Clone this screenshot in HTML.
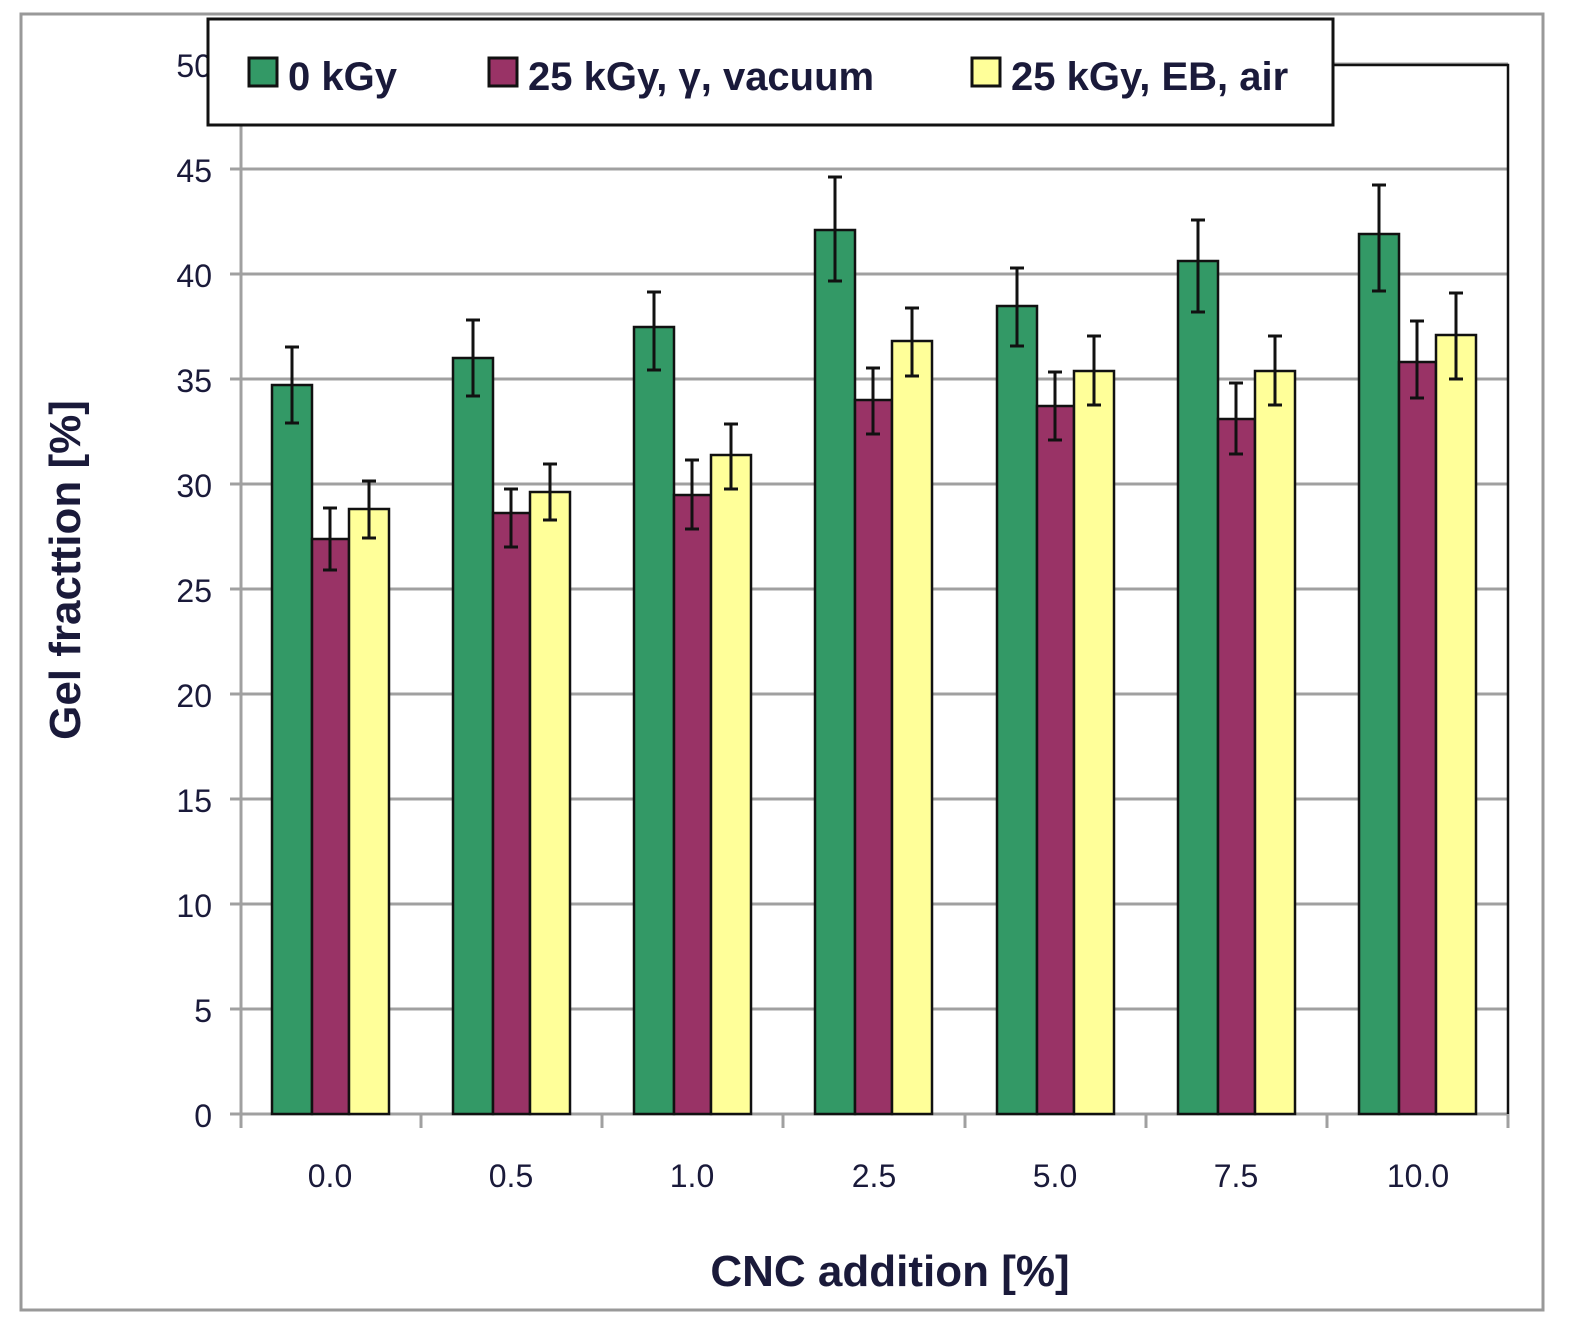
<!DOCTYPE html>
<html><head><style>body{margin:0;background:#fff}svg{display:block}</style></head><body>
<svg width="1574" height="1335" xmlns="http://www.w3.org/2000/svg" font-family="Liberation Sans, sans-serif">
<rect x="0" y="0" width="1574" height="1335" fill="#fff"/>
<rect x="21" y="14" width="1522" height="1296" fill="none" stroke="#999" stroke-width="3"/>
<g stroke="#a0a0a0" stroke-width="3">
<line x1="230" y1="1114" x2="1508" y2="1114"/>
<line x1="230" y1="1009" x2="1508" y2="1009"/>
<line x1="230" y1="904" x2="1508" y2="904"/>
<line x1="230" y1="799" x2="1508" y2="799"/>
<line x1="230" y1="694" x2="1508" y2="694"/>
<line x1="230" y1="589" x2="1508" y2="589"/>
<line x1="230" y1="484" x2="1508" y2="484"/>
<line x1="230" y1="379" x2="1508" y2="379"/>
<line x1="230" y1="274" x2="1508" y2="274"/>
<line x1="230" y1="169" x2="1508" y2="169"/>
<line x1="230" y1="64" x2="1508" y2="64"/>
<line x1="241" y1="64" x2="241" y2="1128"/>
<line x1="421" y1="1114" x2="421" y2="1128"/>
<line x1="602" y1="1114" x2="602" y2="1128"/>
<line x1="783" y1="1114" x2="783" y2="1128"/>
<line x1="965" y1="1114" x2="965" y2="1128"/>
<line x1="1146" y1="1114" x2="1146" y2="1128"/>
<line x1="1327" y1="1114" x2="1327" y2="1128"/>
<line x1="1508" y1="1114" x2="1508" y2="1128"/>
</g>
<polyline points="1333,65 1508,65 1508,1114" fill="none" stroke="#111" stroke-width="2.5"/>
<g stroke="#111" stroke-width="2.5">
<rect x="272" y="385" width="40" height="729" fill="#339966"/>
<rect x="312" y="539" width="37" height="575" fill="#993366"/>
<rect x="349" y="509" width="40" height="605" fill="#ffff99"/>
<rect x="453" y="358" width="40" height="756" fill="#339966"/>
<rect x="493" y="513" width="37" height="601" fill="#993366"/>
<rect x="530" y="492" width="40" height="622" fill="#ffff99"/>
<rect x="634" y="327" width="40" height="787" fill="#339966"/>
<rect x="674" y="495" width="37" height="619" fill="#993366"/>
<rect x="711" y="455" width="40" height="659" fill="#ffff99"/>
<rect x="815" y="230" width="40" height="884" fill="#339966"/>
<rect x="855" y="400" width="37" height="714" fill="#993366"/>
<rect x="892" y="341" width="40" height="773" fill="#ffff99"/>
<rect x="997" y="306" width="40" height="808" fill="#339966"/>
<rect x="1037" y="406" width="37" height="708" fill="#993366"/>
<rect x="1074" y="371" width="40" height="743" fill="#ffff99"/>
<rect x="1178" y="261" width="40" height="853" fill="#339966"/>
<rect x="1218" y="419" width="37" height="695" fill="#993366"/>
<rect x="1255" y="371" width="40" height="743" fill="#ffff99"/>
<rect x="1359" y="234" width="40" height="880" fill="#339966"/>
<rect x="1399" y="362" width="37" height="752" fill="#993366"/>
<rect x="1436" y="335" width="40" height="779" fill="#ffff99"/>
</g>
<g stroke="#111" stroke-width="3" fill="none">
<path d="M292 347V423M285 347H299M285 423H299"/>
<path d="M330 508V570M323 508H337M323 570H337"/>
<path d="M369 481V538M362 481H376M362 538H376"/>
<path d="M473 320V396M466 320H480M466 396H480"/>
<path d="M511 489V547M504 489H518M504 547H518"/>
<path d="M550 464V520M543 464H557M543 520H557"/>
<path d="M654 292V370M647 292H661M647 370H661"/>
<path d="M692 460V529M685 460H699M685 529H699"/>
<path d="M731 424V489M724 424H738M724 489H738"/>
<path d="M835 177V281M828 177H842M828 281H842"/>
<path d="M873 368V434M866 368H880M866 434H880"/>
<path d="M912 308V376M905 308H919M905 376H919"/>
<path d="M1017 268V346M1010 268H1024M1010 346H1024"/>
<path d="M1055 372V440M1048 372H1062M1048 440H1062"/>
<path d="M1094 336V405M1087 336H1101M1087 405H1101"/>
<path d="M1198 220V312M1191 220H1205M1191 312H1205"/>
<path d="M1236 383V454M1229 383H1243M1229 454H1243"/>
<path d="M1275 336V405M1268 336H1282M1268 405H1282"/>
<path d="M1379 185V291M1372 185H1386M1372 291H1386"/>
<path d="M1417 321V398M1410 321H1424M1410 398H1424"/>
<path d="M1456 293V379M1449 293H1463M1449 379H1463"/>
</g>
<g font-size="32" fill="#1a1a3a" text-anchor="end">
<text x="212" y="1127">0</text><text x="212" y="1022">5</text><text x="212" y="917">10</text>
<text x="212" y="812">15</text><text x="212" y="707">20</text><text x="212" y="602">25</text>
<text x="212" y="497">30</text><text x="212" y="392">35</text><text x="212" y="287">40</text>
<text x="212" y="182">45</text><text x="212" y="77">50</text>
</g>
<g font-size="32" fill="#1a1a3a" text-anchor="middle">
<text x="330" y="1187">0.0</text><text x="511" y="1187">0.5</text><text x="692" y="1187">1.0</text>
<text x="874" y="1187">2.5</text><text x="1055" y="1187">5.0</text><text x="1236" y="1187">7.5</text>
<text x="1418" y="1187">10.0</text>
</g>
<text x="890" y="1286" font-size="44" font-weight="bold" fill="#1a1a3a" text-anchor="middle">CNC addition [%]</text>
<text transform="translate(80,570) rotate(-90)" font-size="44" font-weight="bold" fill="#1a1a3a" text-anchor="middle">Gel fracttion [%]</text>
<rect x="208" y="19" width="1125" height="106" fill="#fff" stroke="#111" stroke-width="3"/>
<g stroke="#111" stroke-width="3">
<rect x="249" y="58" width="28" height="28" fill="#339966"/>
<rect x="489" y="58" width="28" height="28" fill="#993366"/>
<rect x="972" y="58" width="28" height="28" fill="#ffff99"/>
</g>
<g font-size="40" font-weight="bold" fill="#1a1a3a">
<text x="288" y="90">0 kGy</text>
<text x="528" y="90">25 kGy, γ, vacuum</text>
<text x="1011" y="90">25 kGy, EB, air</text>
</g>
</svg>
</body></html>
